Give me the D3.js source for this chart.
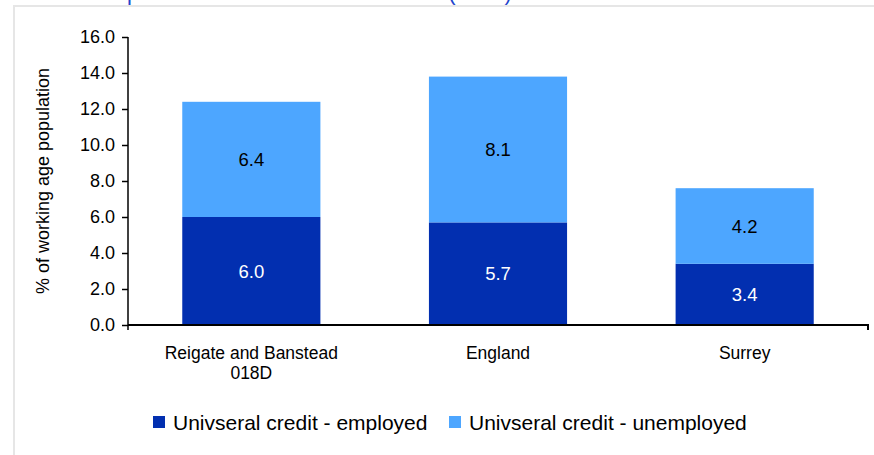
<!DOCTYPE html>
<html>
<head>
<meta charset="utf-8">
<script src="https://cdn.jsdelivr.net/npm/d3@7"></script>
<style>
  html, body { margin: 0; padding: 0; background: #fff; }
  svg { display: block; font-family: "Liberation Sans", Arial, sans-serif; }
</style>
</head>
<body>
<svg id="chart" width="874" height="455"></svg>
<script>
const categories = [["Reigate and Banstead", "018D"], ["England"], ["Surrey"]];
const employed = [6.0, 5.7, 3.4];
const unemployed = [6.4, 8.1, 4.2];
const seriesNames = ["Univseral credit - employed", "Univseral credit - unemployed"];
const seriesColors = ["#022fb0", "#4da6ff"];
const yTicks = [0, 2, 4, 6, 8, 10, 12, 14, 16];
const yTitle = "% of working age population";
const sourceText = "Source: Department for Work and Pensions (2024)";

const svg = d3.select("#chart");
const W = 874, H = 455;
const m = { left: 128, right: 6, top: 37, bottom: 130 };
const plotW = W - m.left - m.right; // 740
const plotH = H - m.top - m.bottom; // 288

// frame + cut-off source text (cut off at top as in the reference)
svg.append("text").attr("x", 17).attr("y", -0.5).attr("fill", "#2244cc")
  .attr("font-size", 22).text(sourceText);
svg.append("rect").attr("x", 14).attr("y", 6).attr("width", 880).attr("height", 470)
  .attr("fill", "none").attr("stroke", "#e6e6e6").attr("stroke-width", 2);

const keys = categories.map(c => c.join(" "));
const x = d3.scaleBand().domain(keys).range([m.left, m.left + plotW]).paddingInner(0.44).paddingOuter(0.22);
const y = d3.scaleLinear().domain([0, 16]).range([m.top + plotH, m.top]);

const data = keys.map((k, i) => ({ key: k, employed: employed[i], unemployed: unemployed[i] }));
const stack = d3.stack().keys(["employed", "unemployed"])(data);

const g = svg.append("g");
stack.forEach((s, si) => {
  g.selectAll(null).data(s).enter().append("rect")
    .attr("x", d => x(d.data.key))
    .attr("width", x.bandwidth())
    .attr("y", d => y(d[1]))
    .attr("height", d => y(d[0]) - y(d[1]))
    .attr("fill", seriesColors[si]);
  g.selectAll(null).data(s).enter().append("text")
    .attr("x", d => x(d.data.key) + x.bandwidth() / 2)
    .attr("y", d => (y(d[0]) + y(d[1])) / 2)
    .attr("dy", "0.36em")
    .attr("text-anchor", "middle")
    .attr("font-size", 18.5)
    .attr("fill", si === 0 ? "#ffffff" : "#000000")
    .text(d => (d[1] - d[0]).toFixed(1));
});

// Y axis
const yAxis = d3.axisLeft(y).tickValues(yTicks).tickFormat(d3.format(".1f")).tickSize(6).tickPadding(7);
const ya = svg.append("g").attr("transform", `translate(${m.left},0)`).call(yAxis);
ya.select(".domain").attr("stroke", "#000").attr("stroke-width", 1.5)
  .attr("d", `M0,${y(16)}V${y(0) + 5}`);
ya.selectAll(".tick line").attr("stroke", "#000").attr("stroke-width", 1.5);
ya.selectAll(".tick text").attr("font-size", 18).attr("fill", "#000")
  .attr("font-family", "Liberation Sans, Arial, sans-serif");

// X axis
const xAxis = d3.axisBottom(x).tickSize(0).tickFormat("");
const xa = svg.append("g").attr("transform", `translate(0,${y(0)})`).call(xAxis);
xa.select(".domain").attr("stroke", "#000").attr("stroke-width", 2)
  .attr("d", `M${m.left},0H${m.left + plotW}V5`);

// category labels
categories.forEach((lines, i) => {
  const cx = x(keys[i]) + x.bandwidth() / 2;
  const t = svg.append("text").attr("text-anchor", "middle").attr("font-size", 17.5).attr("fill", "#000")
    .attr("x", cx).attr("y", 359);
  lines.forEach((ln, j) => t.append("tspan").attr("x", cx).attr("dy", j === 0 ? 0 : 19.5).text(ln));
});

// Y title
svg.append("text").attr("transform", `translate(49,${(y(0) + y(16)) / 2}) rotate(-90)`)
  .attr("text-anchor", "middle").attr("font-size", 18).attr("fill", "#000").text(yTitle);

// legend
const legX = [153, 449];
seriesNames.forEach((n, i) => {
  svg.append("rect").attr("x", legX[i]).attr("y", 416).attr("width", 12).attr("height", 12).attr("fill", seriesColors[i]);
  svg.append("text").attr("x", legX[i] + 20).attr("y", 430).attr("font-size", 21).attr("fill", "#000").text(n);
});
</script>
</body>
</html>
